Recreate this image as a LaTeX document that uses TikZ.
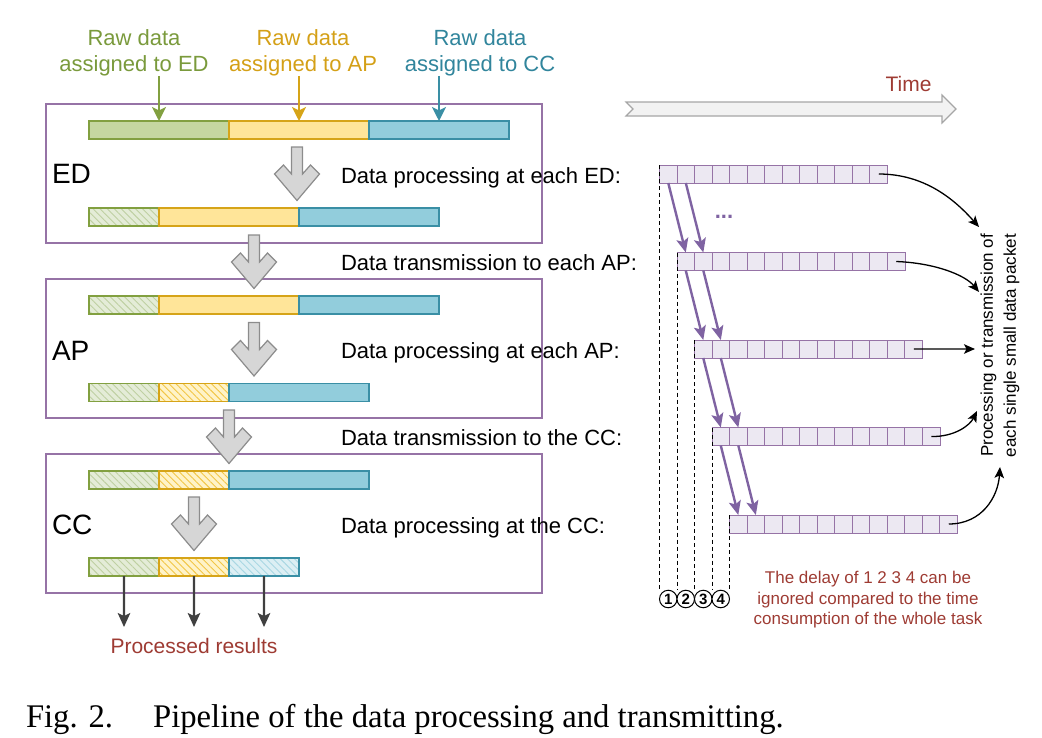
\documentclass[tikz,border=0pt]{standalone}
\usepackage{fontspec}
\setmainfont{Liberation Sans}
\newfontfamily\capfont[FakeStretch=0.99]{Liberation Serif}
\usetikzlibrary{arrows.meta,patterns.meta}
\definecolor{boxP}{HTML}{9673A6}
\definecolor{gS}{HTML}{82A040}
\definecolor{gF}{HTML}{C5D7A0}
\definecolor{gH}{HTML}{E4ECD7}
\definecolor{gHL}{HTML}{BFD0A2}
\definecolor{gT}{HTML}{7A9A3C}
\definecolor{yS}{HTML}{D6A418}
\definecolor{yF}{HTML}{FFE599}
\definecolor{yH}{HTML}{FFF3C8}
\definecolor{yHL}{HTML}{F2C646}
\definecolor{yT}{HTML}{D4A017}
\definecolor{bS}{HTML}{3A8FA5}
\definecolor{bF}{HTML}{92CDDC}
\definecolor{bH}{HTML}{DCEFF4}
\definecolor{bHL}{HTML}{A9D7E3}
\definecolor{bT}{HTML}{31859C}
\definecolor{redT}{HTML}{9E3B33}
\definecolor{pktF}{HTML}{ECE8F2}
\definecolor{pktS}{HTML}{9673A6}
\definecolor{parrC}{HTML}{7F63A2}
\definecolor{grayF}{HTML}{D6D6D6}
\definecolor{grayS}{HTML}{8C8C8C}
\definecolor{timeF}{HTML}{F2F2F2}
\definecolor{timeS}{HTML}{A6A6A6}
\definecolor{outC}{HTML}{404040}
\begin{document}
\begin{tikzpicture}[x=1bp,y=-1bp,
  every node/.style={inner sep=0pt,outer sep=0pt},
  stagebox/.style={draw=boxP,line width=1.3bp,minimum width=496bp,minimum height=139bp,anchor=north west},
  seg/.style={line width=1.2bp,minimum height=18bp,anchor=north west},
  full/.style={minimum width=140bp},
  half/.style={minimum width=70bp},
  segG/.style={seg,full,draw=gS,fill=gF},
  segY/.style={seg,full,draw=yS,fill=yF},
  segB/.style={seg,full,draw=bS,fill=bF},
  hatG/.style={seg,half,draw=gS,fill=gH,postaction={pattern={Lines[angle=-45,distance=5bp,line width=0.9bp]},pattern color=gHL},postaction={draw=gS,line width=1.2bp}},
  hatY/.style={seg,half,draw=yS,fill=yH,postaction={pattern={Lines[angle=-45,distance=5bp,line width=0.9bp]},pattern color=yHL},postaction={draw=yS,line width=1.2bp}},
  hatB/.style={seg,half,draw=bS,fill=bH,postaction={pattern={Lines[angle=-45,distance=5bp,line width=0.9bp]},pattern color=bHL},postaction={draw=bS,line width=1.2bp}},
  rawlbl/.style={align=center,font=\fontsize{22bp}{26bp}\selectfont},
  rawarr/.style={line width=1.9bp,-{Stealth[length=14bp,width=14bp,inset=3.5bp]}},
  biglbl/.style={anchor=base west,font=\fontsize{28bp}{32bp}\selectfont},
  steplbl/.style={anchor=base west,font=\fontsize{22bp}{26bp}\selectfont},
  smalllbl/.style={font=\fontsize{17bp}{20.5bp}\selectfont},
  cell/.style={draw=pktS,fill=pktF,line width=1bp,minimum width=17.54bp,minimum height=18bp,anchor=north west},
  parr/.style={draw=parrC,line width=2.4bp,-{Stealth[length=14bp,width=12bp,inset=3bp]}},
  outarr/.style={draw=outC,line width=2.2bp,-{Stealth[length=14bp,width=12.5bp,inset=3bp]}},
  curvarr/.style={draw=black,line width=1.3bp,-{Stealth[length=11bp,width=9.5bp,inset=2.5bp]}},
  dashline/.style={draw=black,line width=1bp,dash pattern=on 4bp off 3bp},
  num/.style={circle,draw=black,fill=white,line width=1bp,minimum size=17.5bp,font=\fontsize{15bp}{15bp}\selectfont\bfseries},
  blockarr/.pic={\draw[fill=grayF,draw=grayS,line width=1.2bp]
     (-5.5,0) -- (5.5,0) -- (5.5,27) -- (13.5,18) -- (22.5,27) -- (0,53.5)
     -- (-22.5,27) -- (-13.5,18) -- (-5.5,27) -- cycle;}
]
\useasboundingbox (0,0) rectangle (1042,738);

% ---------- stage boxes ----------
\node[stagebox] (edbox) at (46,104) {};
\node[stagebox] (apbox) at (46,279) {};
\node[stagebox] (ccbox) at (46,454) {};

\node[biglbl] (edlbl) at (52,183) {ED};
\node[biglbl] (aplbl) at (52,360) {AP};
\node[biglbl] (cclbl) at (52,534) {CC};

% ---------- raw data labels ----------
\node[rawlbl,text=gT] (rawG) at (134,52.5) {Raw data\\assigned to ED};
\node[rawlbl,text=yT] (rawY) at (303,52.5) {Raw data\\assigned to AP};
\node[rawlbl,text=bT] (rawB) at (480,52.5) {Raw data\\assigned to CC};

% ---------- bars ----------
\node[segG] (e1g) at (89,121) {};
\node[segY] (e1y) at (e1g.north east) {};
\node[segB] (e1b) at (e1y.north east) {};

\node[hatG] (e2g) at (89,208) {};
\node[segY] (e2y) at (e2g.north east) {};
\node[segB] (e2b) at (e2y.north east) {};

\node[hatG] (a1g) at (89,296) {};
\node[segY] (a1y) at (a1g.north east) {};
\node[segB] (a1b) at (a1y.north east) {};

\node[hatG] (a2g) at (89,383.5) {};
\node[hatY] (a2y) at (a2g.north east) {};
\node[segB] (a2b) at (a2y.north east) {};

\node[hatG] (c1g) at (89,471) {};
\node[hatY] (c1y) at (c1g.north east) {};
\node[segB] (c1b) at (c1y.north east) {};

\node[hatG] (c2g) at (89,558) {};
\node[hatY] (c2y) at (c2g.north east) {};
\node[hatB] (c2b) at (c2y.north east) {};

% raw data arrows
\draw[rawarr,draw=gS] (rawG.south -| e1g.north) -- (e1g.north);
\draw[rawarr,draw=yS] (rawY.south -| e1y.north) -- (e1y.north);
\draw[rawarr,draw=bS] (rawB.south -| e1b.north) -- (e1b.north);

% ---------- gray block arrows ----------
\pic (ba1) at (297,147) {blockarr};
\pic (ba2) at (254,235) {blockarr};
\pic (ba3) at (254,322.5) {blockarr};
\pic (ba4) at (229,410) {blockarr};
\pic (ba5) at (194,497) {blockarr};

% ---------- step labels ----------
\node[steplbl] (s1) at (341,183) {Data processing at each ED:};
\node[steplbl] (s2) at (341,270.5) {Data transmission to each AP:};
\node[steplbl] (s3) at (341,358) {Data processing at each AP:};
\node[steplbl] (s4) at (341,445.5) {Data transmission to the CC:};
\node[steplbl] (s5) at (341,533) {Data processing at the CC:};

% ---------- processed results ----------
\node[anchor=base,text=redT,font=\fontsize{21bp}{24bp}\selectfont] (res) at (194,653) {Processed results};
\coordinate (o1) at (124,627);
\coordinate (o2) at (194,627);
\coordinate (o3) at (264,627);
\draw[outarr] (c2g.south) -- (o1);
\draw[outarr] (c2y.south) -- (o2);
\draw[outarr] (c2b.south) -- (o3);

% ---------- time arrow ----------
\draw[fill=timeF,draw=timeS,line width=1.2bp]
  (626,102) -- (942,102) -- (942,95) -- (956,109) -- (942,123) -- (942,116)
  -- (626,116) -- (633,109) -- cycle;
\node[anchor=base,text=redT,font=\fontsize{21bp}{24bp}\selectfont] (time) at (908.5,91.5) {Time};

% ---------- packet rows ----------
\foreach \k in {0,...,4}{
  \foreach \j in {1,...,13}{
    \node[cell] (r\k-\j) at ({659.5+17.5*\k+17.54*(\j-1)},{165+87.5*\k}) {};
  }
}
\foreach \k/\n in {0/1,1/2,2/3,3/4}{
  \draw[parr] (r\k-1.south) -- (r\n-1.north);
  \draw[parr] (r\k-2.south) -- (r\n-2.north);
}
\node[anchor=base,text=parrC,font=\fontsize{22bp}{26bp}\selectfont\bfseries] (dots) at (724,218) {...};

% numbered circles and dashed lines
\foreach \i in {1,...,4}{
  \node[num] (c\i) at ({668.25+17.5*(\i-1)},599) {\i};
}
\foreach \k in {0,...,4}{
  \draw[dashline] (r\k-1.north west) -- (r\k-1.north west |- c1.north);
}

% ---------- note text ----------
\node[smalllbl,align=center,text=redT] (delay) at (868,600) {The delay of 1 2 3 4 can be\\ignored compared to the time\\consumption of the whole task};

\node[rotate=90,align=center,font=\fontsize{17bp}{23bp}\selectfont] (note) at (1000,345.5) {Processing or transmission of\\each single small data packet};

\coordinate (t0) at (979,227);
\coordinate (t1) at (979,292);
\coordinate (t2) at (975,349);
\coordinate (t3) at (977,411);
\coordinate (t4) at (1000,467);
\draw[curvarr] (r0-13.center) .. controls (925,174) and (955,200) .. (t0);
\draw[curvarr] (r1-13.center) .. controls (935,263) and (965,275) .. (t1);
\draw[curvarr] (r2-13.center) -- (t2);
\draw[curvarr] (r3-13.center) .. controls (955,437) and (970,425) .. (t3);
\draw[curvarr] (r4-13.center) .. controls (982,524) and (998,497) .. (t4);

% ---------- caption ----------
\node[anchor=base west,font=\capfont\fontsize{33bp}{37bp}\selectfont] (cap) at (26,727) {Fig. 2.\hspace{40bp}Pipeline of the data processing and transmitting.};
\end{tikzpicture}
\end{document}
